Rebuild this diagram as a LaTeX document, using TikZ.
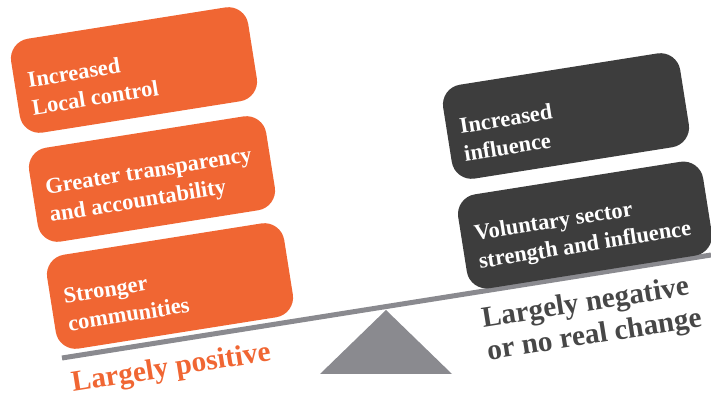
\documentclass[tikz,border=0pt]{standalone}
\usepackage{fontspec}
\setmainfont{Liberation Serif}[BoldFont={Liberation Serif Bold}]
\usepackage{xcolor}
\usepackage{tikz}
\usetikzlibrary{%
arrows,
shapes,
backgrounds}

\definecolor{posorange}{rgb}{0.94,0.40,0.20}
\definecolor{negdark}{rgb}{0.24,0.24,0.24}
\definecolor{beamgrey}{rgb}{0.54,0.54,0.56}

\begin{document}
\begin{tikzpicture}[>=latex,line join=bevel,
  gainbox/.style={rectangle,rounded corners=20bp,fill=posorange,text=white,rotate=9,
    minimum width=240bp,minimum height=95bp,inner xsep=13.5bp,text width=213bp,align=flush left,
    font=\rmfamily\bfseries\fontsize{22.5bp}{28bp}\selectfont,
    execute at begin node={\rule{0pt}{30bp}}},
  lossbox/.style={gainbox,fill=negdark},
  sidelabel/.style={rotate=9,align=flush left,inner sep=0bp,
    font=\rmfamily\bfseries\fontsize{29.3bp}{33bp}\selectfont}]
  \useasboundingbox (0bp,0bp) rectangle (711bp,398bp);
%%
  % Beam and pivot
  \coordinate (beamL) at (62bp,40bp);
  \coordinate (beamR) at (711bp,143bp);
  \draw [beamgrey,line width=5bp] (beamL) -- (beamR);
  \fill [beamgrey] (320bp,24bp) -- (452bp,24bp) -- (386bp,88bp) -- cycle;
  % Node: localCtrl
  \node [gainbox] (localCtrl) at (134bp,328bp) {Increased\\Local control};
  % Node: transparency
  \node [gainbox] (transparency) at (152bp,219bp) {Greater transparency\\and accountability};
  % Node: strongerComm
  \node [gainbox] (strongerComm) at (170bp,112bp) {Stronger\\communities};
  % Node: influence
  \node [lossbox] (influence) at (566bp,282bp) {Increased\\influence};
  % Node: volSector
  \node [lossbox,minimum width=248bp,text width=221bp] (volSector) at (585bp,173bp)
    {Voluntary sector\\strength and influence};
  % Side labels
  \node [sidelabel,text=posorange,anchor=base west] (posLabel) at (73bp,6bp) {Largely positive};
  \node [sidelabel,text=negdark!95,anchor=north west] (negLabel) at (480bp,90.6bp)
    {Largely negative\\or no real change};
%
\end{tikzpicture}
\end{document}
